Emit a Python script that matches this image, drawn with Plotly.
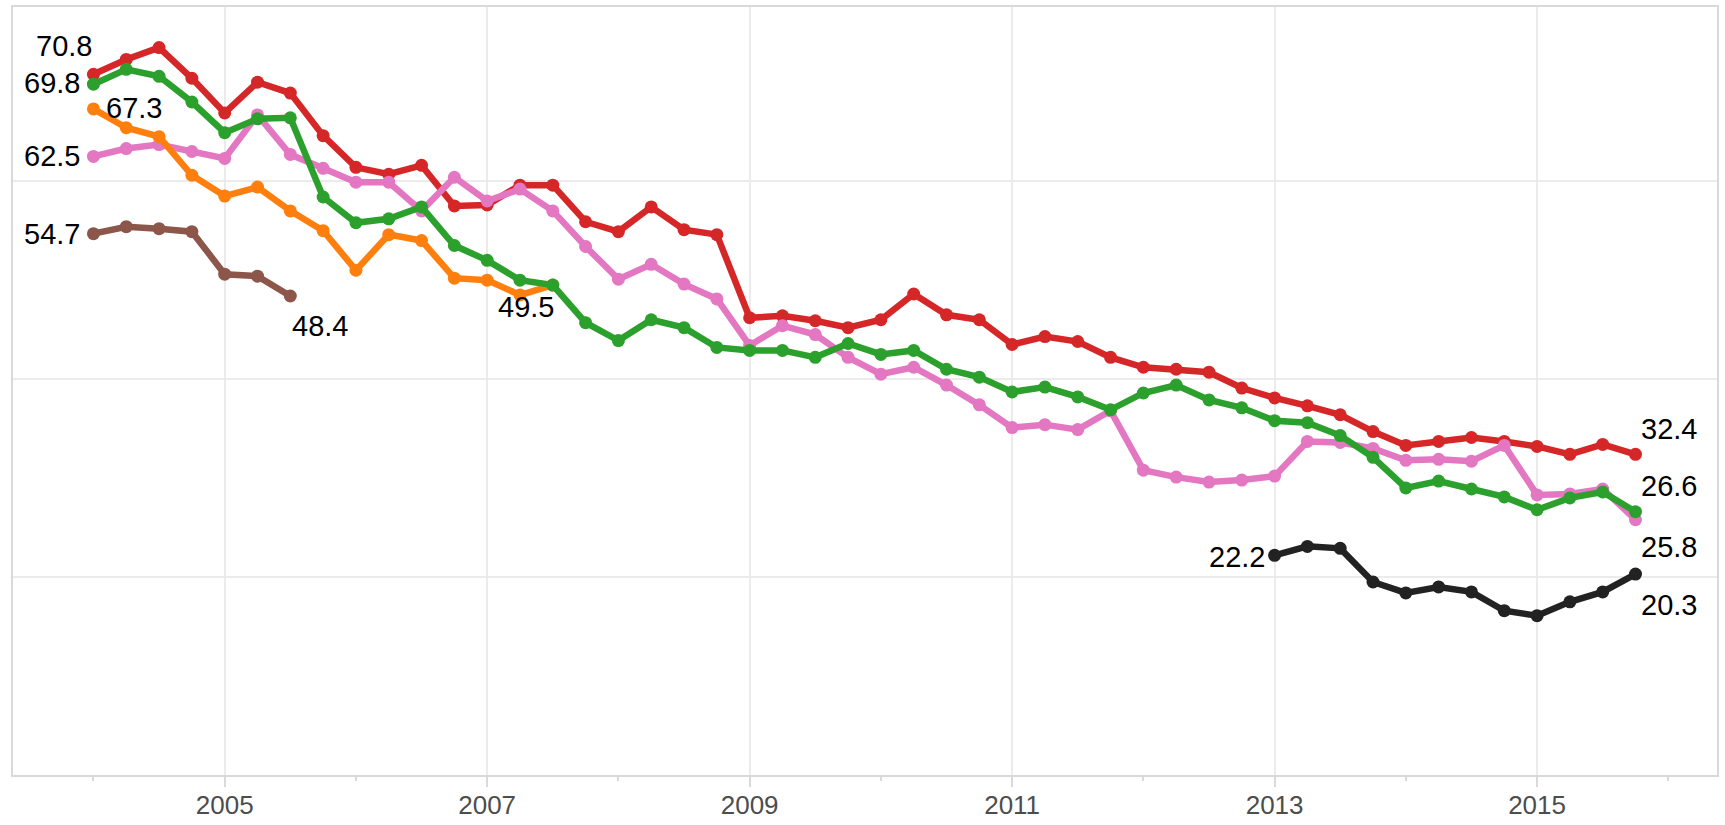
import plotly.graph_objects as go

# ---------------- data ----------------
years = list(range(2004, 2016))
quarters = [y + q / 4 for y in years for q in range(4)]  # 2004Q1 .. 2015Q4

red = [70.8, 72.3, 73.5, 70.4, 66.9, 70.0, 68.9, 64.6,
       61.4, 60.7, 61.6, 57.5, 57.6, 59.6, 59.6, 55.9,
       54.9, 57.4, 55.1, 54.6, 46.2, 46.4, 45.9, 45.2,
       46.0, 48.6, 46.5, 46.0, 43.5, 44.3, 43.8, 42.2,
       41.2, 41.0, 40.7, 39.1, 38.1, 37.3, 36.4, 34.7,
       33.3, 33.7, 34.1, 33.7, 33.2, 32.4, 33.4, 32.4]

green = [69.8, 71.3, 70.6, 68.0, 64.9, 66.3, 66.4, 58.4,
         55.8, 56.2, 57.4, 53.5, 52.0, 50.0, 49.5, 45.7,
         43.9, 46.0, 45.2, 43.2, 42.9, 42.9, 42.2, 43.6,
         42.5, 42.9, 41.0, 40.2, 38.7, 39.2, 38.2, 36.9,
         38.6, 39.4, 37.9, 37.1, 35.8, 35.6, 34.3, 32.1,
         29.0, 29.7, 28.9, 28.1, 26.8, 28.0, 28.6, 26.6]

pink = [62.5, 63.3, 63.7, 63.0, 62.3, 66.7, 62.7, 61.3,
        59.9, 59.9, 57.0, 60.4, 58.0, 59.2, 57.0, 53.4,
        50.1, 51.6, 49.6, 48.1, 43.4, 45.4, 44.5, 42.2,
        40.5, 41.2, 39.4, 37.4, 35.1, 35.4, 34.9, 36.8,
        30.8, 30.1, 29.6, 29.8, 30.2, 33.7, 33.6, 33.0,
        31.8, 31.9, 31.7, 33.3, 28.3, 28.4, 28.9, 25.8]

orange = [67.3, 65.4, 64.5, 60.6, 58.5, 59.4, 57.0, 55.0,
          51.0, 54.6, 54.0, 50.2, 50.0, 48.5, 49.5]
orange_start = 0

brown = [54.7, 55.4, 55.2, 54.9, 50.6, 50.4, 48.4]
brown_start = 0

black = [22.2, 23.1, 22.9, 19.5, 18.4, 19.0, 18.5, 16.6, 16.1, 17.5, 18.5, 20.3]
black_start = 36  # 2013Q1

major_ticks = [2005, 2007, 2009, 2011, 2013, 2015]
minor_ticks = [2004, 2006, 2008, 2010, 2012, 2014, 2016]
y_grid = [0, 20, 40, 60]

# ---------------- series (bottom to top drawing order) ----------------
series = {
    "brown": (quarters[brown_start:brown_start + len(brown)], brown, "#8c564b"),
    "red": (quarters[:len(red)], red, "#d62728"),
    "pink": (quarters[:len(pink)], pink, "#e377c2"),
    "orange": (quarters[orange_start:orange_start + len(orange)], orange, "#ff7f0e"),
    "green": (quarters[:len(green)], green, "#2ca02c"),
    "black": (quarters[black_start:black_start + len(black)], black, "#222222"),
}

fig = go.Figure()
for name, (xs, ys, col) in series.items():
    fig.add_trace(go.Scatter(
        x=xs, y=ys, mode="lines+markers", name=name,
        line=dict(color=col, width=6.5),
        marker=dict(color=col, size=13),
        showlegend=False, hoverinfo="x+y",
    ))

# label placement: (series, first/last, xanchor, xshift, yshift)
label_specs = [
    ("red", 0, "center", -29, 28),
    ("green", 0, "right", -11, 1),
    ("orange", 0, "left", 11, 1),
    ("pink", 0, "right", -11, 0),
    ("brown", 0, "right", -11, 0),
    ("brown", -1, "left", 0, -30),
    ("orange", -1, "right", 3, -22),
    ("black", 0, "right", -8, -2),
    ("red", -1, "left", 3, 25),
    ("green", -1, "left", 3, 26),
    ("pink", -1, "left", 3, -27),
    ("black", -1, "left", 3, -31),
]
for name, idx, xa, dx, dy in label_specs:
    xs, ys, _ = series[name]
    fig.add_annotation(
        x=xs[idx], y=ys[idx], text=f"{ys[idx]:.1f}", showarrow=False,
        xanchor=xa, yanchor="middle", xshift=dx, yshift=dy,
        font=dict(family="Liberation Sans, Arial, sans-serif", size=29, color="#000000"),
    )

fig.update_layout(
    width=1725, height=825,
    margin=dict(l=13, r=8, t=7, b=50, autoexpand=False),
    paper_bgcolor="white", plot_bgcolor="white",
    font=dict(family="Liberation Sans, Arial, sans-serif"),
)
fig.update_xaxes(
    range=[2003.387, 2016.371], automargin=False,
    tickmode="array", tickvals=major_ticks, ticktext=[str(t) for t in major_ticks],
    showgrid=True, gridcolor="#ebebeb", gridwidth=1.5,
    ticks="outside", ticklen=10, tickwidth=1.5, tickcolor="#d9d9d9",
    tickfont=dict(size=26, color="#4d4d4d"),
    ticklabelstandoff=-4,
    minor=dict(tickmode="array", tickvals=minor_ticks, ticks="outside",
               ticklen=4, tickwidth=1.5, tickcolor="#d9d9d9", showgrid=False),
    showline=True, mirror=True, linecolor="#d9d9d9", linewidth=2,
    zeroline=False,
)
fig.update_yaxes(
    range=[0, 77.6], automargin=False,
    tickmode="array", tickvals=y_grid,
    showticklabels=False, ticks="",
    showgrid=True, gridcolor="#ebebeb", gridwidth=1.5,
    showline=True, mirror=True, linecolor="#d9d9d9", linewidth=2,
    zeroline=False,
)

fig.write_html(
    "out.html",
    config={"displayModeBar": False},
    post_script="document.body.style.margin='0';document.body.style.overflow='hidden';",
)
